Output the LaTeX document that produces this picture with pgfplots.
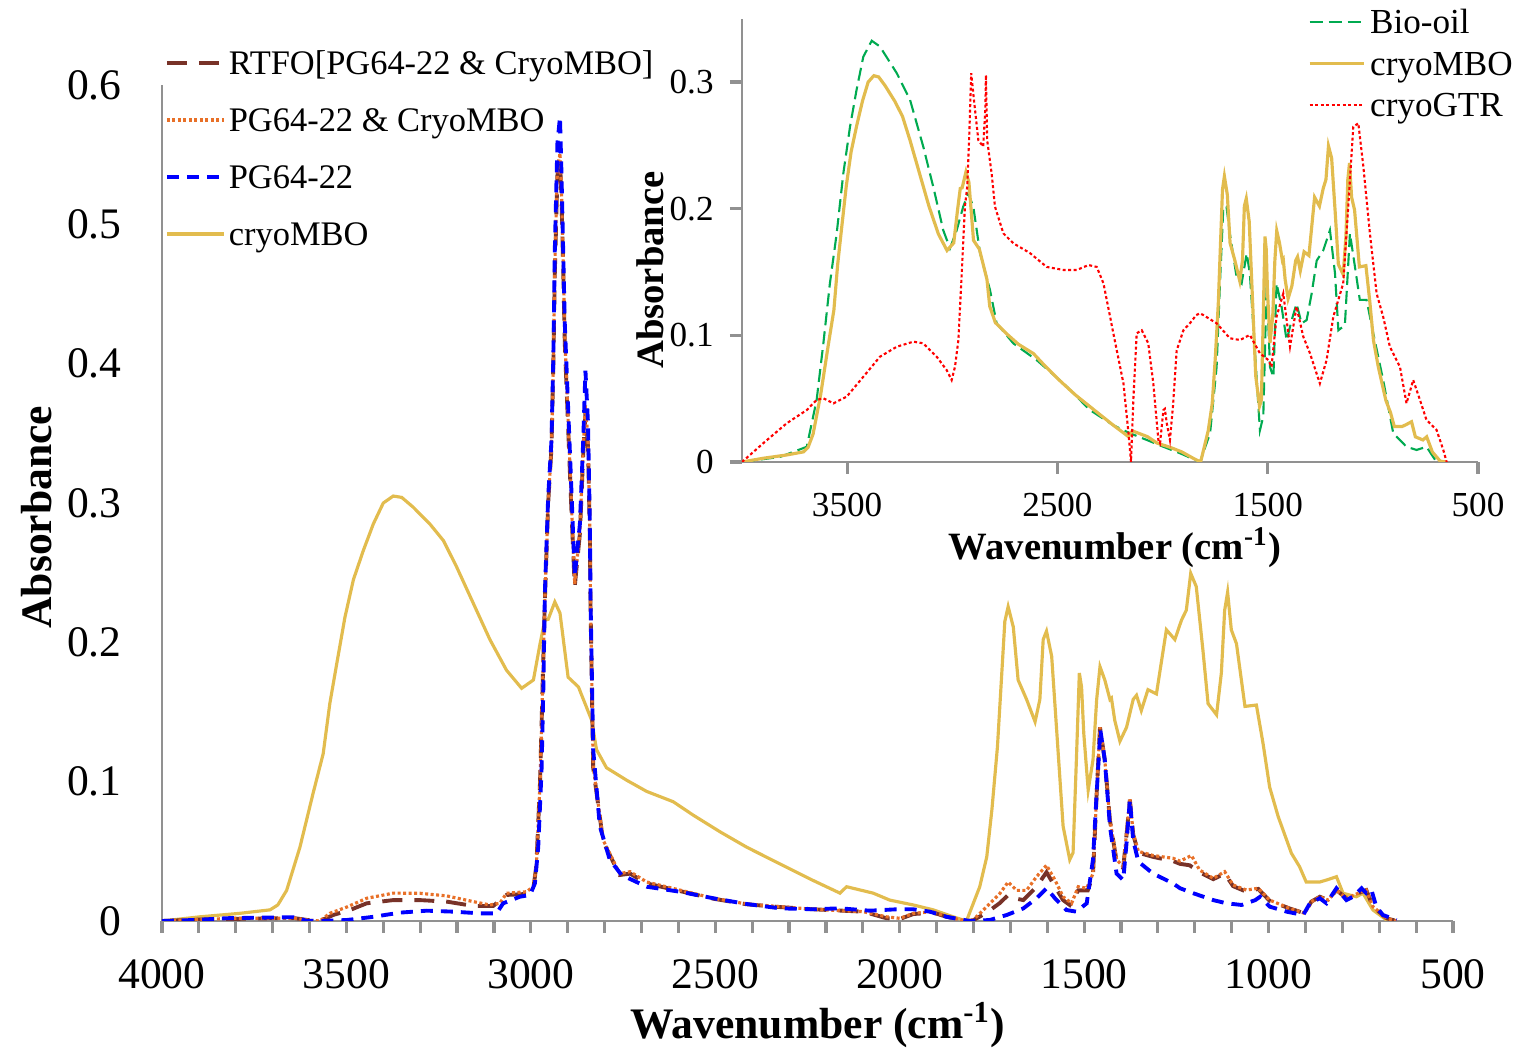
\documentclass[border=0pt]{standalone}
\usepackage{pgfplots}
\pgfplotsset{compat=1.18}
\usepackage{pgfplotstable}
\usepackage{fontspec}
\setmainfont{Liberation Serif}

\definecolor{axisgray}{RGB}{145,145,145}
\definecolor{rtfo}{RGB}{120,50,40}
\definecolor{blendorange}{RGB}{232,112,40}
\definecolor{pgblue}{RGB}{0,0,255}
\definecolor{mbogold}{RGB}{226,188,78}
\definecolor{biogreen}{RGB}{0,170,80}
\definecolor{gtrred}{RGB}{255,0,0}

\tikzset{
  rtfo line/.style={rtfo, line width=1.1pt, dash pattern=on 2mm off 1.2mm},
  blend line/.style={blendorange, line width=0.9pt, dash pattern=on 0.3mm off 0.25mm},
  pg line/.style={pgblue, line width=1.1pt, dash pattern=on 1.2mm off 0.8mm},
  mbo line/.style={mbogold, line width=0.9pt},
  bio line/.style={biogreen, line width=0.6pt, dash pattern=on 1.3mm off 0.6mm},
  gtr line/.style={gtrred, line width=0.6pt, dash pattern=on 0.3mm off 0.25mm},
}

% cryoMBO spectrum (wavenumber, absorbance)
\pgfplotstableread{
wn a
4000 0.000
3897 0.003
3789 0.0055
3707 0.008
3686 0.0115
3662 0.022
3626 0.053
3590 0.092
3563 0.120
3545 0.156
3526 0.185
3504 0.218
3481 0.245
3454 0.266
3427 0.285
3400 0.300
3373 0.305
3350 0.304
3319 0.297
3274 0.285
3237 0.273
3201 0.254
3156 0.228
3111 0.202
3066 0.180
3025 0.167
2993 0.173
2975 0.199
2962 0.216
2953 0.2165
2935 0.229
2921 0.221
2899 0.175
2871 0.168
2835 0.144
2822 0.123
2795 0.110
2740 0.101
2686 0.093
2614 0.0856
2560 0.076
2487 0.064
2415 0.053
2325 0.041
2234 0.029
2162 0.020
2144 0.0246
2072 0.020
2027 0.015
1963 0.0115
1909 0.008
1855 0.003
1819 0.000
1783 0.0246
1764 0.046
1750 0.080
1735 0.125
1725 0.170
1715 0.215
1706 0.2256
1692 0.211
1679 0.173
1656 0.159
1633 0.143
1620 0.159
1611 0.202
1602 0.208
1588 0.190
1575 0.139
1557 0.068
1539 0.044
1530 0.049
1521 0.1155
1513 0.178
1507 0.168
1501 0.1347
1489 0.094
1476 0.1155
1466 0.159
1457 0.1825
1444 0.173
1430 0.159
1426 0.160
1417 0.144
1403 0.129
1385 0.139
1367 0.159
1358 0.162
1345 0.151
1327 0.166
1304 0.163
1277 0.209
1254 0.202
1236 0.216
1223 0.223
1211 0.2495
1196 0.240
1178 0.1945
1164 0.156
1141 0.148
1128 0.178
1119 0.223
1111 0.236
1101 0.209
1087 0.199
1064 0.154
1033 0.155
1015 0.1275
997 0.096
974 0.075
938 0.0486
916 0.039
898 0.028
861 0.028
843 0.0294
816 0.0318
798 0.0199
762 0.0174
744 0.0199
717 0.0079
680 0.0007
653 0.000
}\cryombo

% PG64-22 binder
\pgfplotstableread{
wn a
4000 0.000
3915 0.0007
3824 0.002
3734 0.0024
3644 0.0027
3608 0.0002
3572 0.000
3499 0.0007
3427 0.003
3355 0.006
3282 0.0074
3210 0.0067
3138 0.0055
3093 0.0055
3075 0.0127
3030 0.0174
3002 0.0187
2989 0.027
2980 0.053
2971 0.108
2966 0.168
2962 0.235
2953 0.3045
2944 0.345
2939 0.405
2935 0.4816
2928 0.558
2921 0.577
2917 0.537
2912 0.477
2908 0.429
2899 0.369
2890 0.309
2881 0.247
2867 0.285
2858 0.345
2852 0.395
2845 0.357
2840 0.285
2838 0.228
2831 0.123
2813 0.068
2786 0.044
2754 0.033
2686 0.0246
2596 0.021
2505 0.0163
2415 0.0122
2325 0.0091
2234 0.0084
2162 0.0091
2081 0.0074
2008 0.0084
1963 0.0084
1918 0.0067
1873 0.003
1810 0.000
1756 0.0007
1710 0.0043
1665 0.009
1629 0.0163
1602 0.0235
1579 0.0163
1548 0.0079
1521 0.0067
1493 0.0127
1476 0.044
1466 0.0917
1456 0.137
1444 0.1155
1430 0.068
1412 0.034
1394 0.0294
1385 0.056
1376 0.087
1367 0.058
1353 0.0426
1313 0.034
1259 0.027
1240 0.0235
1204 0.0199
1150 0.015
1114 0.0127
1073 0.0115
1036 0.015
1023 0.0174
997 0.0103
951 0.0067
906 0.0043
888 0.0127
861 0.0163
843 0.0127
816 0.0235
789 0.015
771 0.0174
748 0.0235
735 0.0199
721 0.0222
708 0.0103
690 0.0043
653 0.0007
}\pgbinder

% PG64-22 & CryoMBO blend
\pgfplotstableread{
wn a
4000 0.000
3900 0.001
3800 0.002
3700 0.002
3640 0.002
3600 0.0005
3572 0.000
3545 0.0055
3499 0.010
3445 0.0163
3373 0.020
3301 0.0199
3228 0.018
3156 0.0139
3111 0.0115
3084 0.0127
3066 0.0199
3012 0.021
2993 0.0246
2985 0.040
2975 0.100
2968 0.170
2962 0.230
2953 0.300
2944 0.340
2939 0.400
2935 0.470
2928 0.540
2921 0.551
2917 0.525
2912 0.470
2908 0.420
2899 0.360
2890 0.300
2881 0.242
2867 0.280
2858 0.340
2852 0.370
2845 0.345
2840 0.280
2838 0.225
2831 0.111
2804 0.058
2759 0.034
2731 0.0354
2686 0.028
2596 0.0222
2505 0.0163
2415 0.0122
2325 0.0103
2234 0.0084
2099 0.0067
2036 0.003
1999 0.0019
1963 0.0055
1909 0.0067
1873 0.003
1819 0.000
1801 0.0007
1764 0.0103
1728 0.0199
1706 0.028
1683 0.022
1656 0.022
1629 0.0318
1602 0.040
1579 0.0294
1557 0.0174
1534 0.0127
1516 0.0246
1493 0.0235
1476 0.034
1466 0.0917
1457 0.139
1444 0.1155
1430 0.0725
1412 0.044
1394 0.039
1385 0.063
1376 0.088
1367 0.063
1353 0.050
1313 0.047
1259 0.045
1240 0.043
1209 0.047
1187 0.0366
1150 0.0306
1119 0.0354
1096 0.0258
1060 0.0222
1028 0.0235
997 0.015
943 0.0091
902 0.0055
884 0.0139
861 0.0174
838 0.015
816 0.0222
789 0.0163
757 0.0199
735 0.0222
717 0.0103
680 0.0019
653 0.000
}\blend

% RTFO-aged blend
\pgfplotstableread{
wn a
4000 0.000
3900 0.001
3800 0.0015
3700 0.002
3640 0.002
3600 0.0005
3572 0.000
3536 0.0043
3490 0.0079
3445 0.0127
3373 0.015
3301 0.015
3228 0.0139
3156 0.0108
3102 0.0108
3066 0.0187
3012 0.0194
2993 0.0235
2985 0.040
2975 0.100
2968 0.170
2962 0.230
2953 0.300
2944 0.340
2939 0.400
2935 0.465
2928 0.535
2921 0.545
2917 0.520
2912 0.465
2908 0.415
2899 0.355
2890 0.295
2881 0.240
2867 0.278
2858 0.335
2852 0.365
2845 0.340
2840 0.278
2838 0.222
2831 0.110
2804 0.057
2759 0.033
2731 0.034
2686 0.027
2596 0.0215
2505 0.016
2415 0.012
2325 0.010
2234 0.0084
2099 0.0067
2036 0.002
1999 0.0015
1963 0.005
1909 0.006
1873 0.003
1819 0.000
1801 0.0005
1764 0.006
1728 0.013
1706 0.0187
1683 0.016
1665 0.015
1629 0.0246
1602 0.035
1579 0.0246
1557 0.015
1539 0.0115
1516 0.022
1490 0.022
1476 0.033
1466 0.0917
1457 0.139
1444 0.1155
1430 0.072
1412 0.043
1394 0.038
1385 0.062
1376 0.087
1367 0.062
1353 0.049
1313 0.046
1259 0.043
1240 0.041
1214 0.040
1187 0.035
1150 0.030
1119 0.034
1096 0.025
1060 0.021
1028 0.023
997 0.0145
943 0.009
902 0.0055
884 0.0139
861 0.0174
838 0.015
816 0.0222
789 0.0163
757 0.0199
735 0.0222
717 0.0103
680 0.0019
653 0.000
}\rtfoaged

% Bio-oil
\pgfplotstableread{
wn a
4000 0.000
3819 0.004
3692 0.012
3645 0.049
3613 0.0937
3582 0.141
3550 0.180
3518 0.228
3486 0.265
3455 0.294
3423 0.320
3383 0.3326
3344 0.328
3264 0.307
3201 0.286
3138 0.249
3090 0.217
3043 0.183
3011 0.1687
2979 0.183
2948 0.2016
2924 0.212
2900 0.2016
2868 0.165
2821 0.136
2789 0.1095
2710 0.0937
2599 0.0805
2471 0.062
2345 0.041
2234 0.029
2155 0.0227
2075 0.0174
1996 0.012
1917 0.0069
1822 0.000
1774 0.0227
1743 0.075
1727 0.141
1711 0.2016
1696 0.2016
1680 0.1805
1648 0.146
1624 0.141
1600 0.1647
1585 0.149
1561 0.088
1537 0.025
1521 0.036
1505 0.141
1489 0.075
1473 0.067
1458 0.141
1434 0.1226
1410 0.096
1386 0.112
1363 0.125
1339 0.1095
1315 0.112
1291 0.133
1267 0.159
1236 0.167
1204 0.183
1180 0.149
1164 0.104
1133 0.108
1109 0.1805
1085 0.154
1062 0.128
1030 0.128
998 0.1016
951 0.0647
903 0.0227
840 0.012
792 0.0095
745 0.012
697 0.000
665 0.000
}\biooil

% cryoGTR
\pgfplotstableread{
wn a
4000 0.000
3899 0.0148
3787 0.0306
3692 0.041
3645 0.049
3613 0.0503
3565 0.0463
3502 0.0516
3423 0.0673
3344 0.0831
3264 0.091
3185 0.095
3138 0.0937
3074 0.0831
3027 0.0726
3003 0.0647
2987 0.0752
2971 0.0963
2955 0.149
2940 0.2016
2929 0.217
2919 0.259
2910 0.307
2897 0.286
2876 0.254
2853 0.249
2843 0.278
2840 0.3055
2834 0.254
2813 0.228
2797 0.2016
2757 0.1805
2710 0.1727
2631 0.165
2551 0.154
2471 0.1516
2408 0.1516
2352 0.1555
2313 0.154
2281 0.141
2234 0.1016
2186 0.062
2162 0.0227
2150 0.000
2139 0.049
2123 0.1016
2099 0.104
2068 0.0937
2044 0.062
2020 0.0174
2012 0.0148
1996 0.041
1989 0.042
1980 0.0306
1965 0.0174
1950 0.045
1933 0.088
1901 0.104
1870 0.1095
1840 0.116
1822 0.1174
1806 0.116
1743 0.1095
1680 0.0977
1632 0.0963
1585 0.1003
1537 0.0858
1497 0.0805
1482 0.075
1458 0.1147
1426 0.133
1394 0.091
1363 0.1226
1331 0.099
1299 0.0858
1252 0.062
1220 0.0805
1188 0.1147
1141 0.141
1117 0.2016
1093 0.2647
1069 0.2674
1045 0.233
1014 0.1805
982 0.133
951 0.1147
919 0.091
871 0.075
840 0.0463
808 0.0647
776 0.049
745 0.0332
697 0.0253
665 0.0095
649 0.000
}\cryogtr

\begin{document}
\begin{tikzpicture}
% page frame: fixes the overall extent of the figure
\path (0,0) rectangle (152.1mm,105.2mm);

% main spectra
\begin{axis}[
  at={(16.2mm,13.1mm)}, anchor=south west,
  scale only axis, width=129.1mm, height=83.6mm,
  xmin=500, xmax=4000, x dir=reverse,
  ymin=0, ymax=0.6,
  axis x line*=bottom, axis y line*=left,
  axis line style={draw=axisgray, line width=0.8pt},
  xtick={500,1000,1500,2000,2500,3000,3500,4000},
  minor xtick={600,700,...,3900},
  ytick={0,0.1,0.2,0.3,0.4,0.5,0.6},
  tick align=outside,
  major tick length=1.2mm, minor tick length=1.2mm,
  xtick style={draw=axisgray, line width=0.9pt},
  ytick style={draw=none},
  tick label style={font=\fontsize{12.4}{14}\selectfont, /pgf/number format/assume math mode=true},
  xticklabel style={/pgf/number format/set thousands separator={}, yshift=-1.4mm},
  yticklabel style={/pgf/number format/fixed, xshift=-1.6mm},
  xlabel={Wavenumber (cm\textsuperscript{-1})},
  ylabel={Absorbance},
  label style={font=\fontsize{12.4}{14}\selectfont\bfseries},
  xlabel style={at={(axis description cs:0.508,-0.1244)}, anchor=center},
  ylabel style={at={(axis description cs:-0.0968,0.483)}, anchor=center},
  legend style={at={(axis description cs:0,1)}, anchor=north west, xshift=0.3mm, yshift=5.05mm,
    draw=none, fill=none, inner sep=0pt, outer sep=0pt, row sep=0pt,
    font=\fontsize{9.8}{12}\selectfont,
    nodes={inner xsep=0.3mm, inner ysep=0pt, text height=4.0mm, text depth=1.7mm}},
  legend cell align=left,
  legend image code/.code={\draw[#1] (0mm,0mm) -- (5.7mm,0mm);},
]
\addlegendimage{rtfo line}\addlegendentry{RTFO[PG64-22 \& CryoMBO]}
\addlegendimage{blend line}\addlegendentry{PG64-22 \& CryoMBO}
\addlegendimage{pg line}\addlegendentry{PG64-22}
\addlegendimage{mbo line}\addlegendentry{cryoMBO}
\addplot[mbo line, forget plot] table[x=wn,y=a] {\cryombo};
\addplot[rtfo line, forget plot] table[x=wn,y=a] {\rtfoaged};
\addplot[blend line, forget plot] table[x=wn,y=a] {\blend};
\addplot[pg line, forget plot] table[x=wn,y=a] {\pgbinder};
\end{axis}

% inset: raw materials
\begin{axis}[
  at={(74.2mm,59.0mm)}, anchor=south west,
  scale only axis, width=73.6mm, height=44.33mm,
  xmin=500, xmax=4000, x dir=reverse,
  ymin=0, ymax=0.35,
  axis x line*=bottom, axis y line*=left,
  axis line style={draw=axisgray, line width=0.8pt},
  xtick={500,1500,2500,3500},
  ytick={0,0.1,0.2,0.3},
  tick align=outside,
  major tick length=1.2mm,
  xtick style={draw=axisgray, line width=0.9pt},
  ytick style={draw=axisgray, line width=0.9pt},
  tick label style={font=\fontsize{10}{12}\selectfont, /pgf/number format/assume math mode=true},
  xticklabel style={/pgf/number format/set thousands separator={}, yshift=-0.7mm},
  yticklabel style={/pgf/number format/fixed, xshift=-0.4mm},
  xlabel={Wavenumber (cm\textsuperscript{-1})},
  ylabel={Absorbance},
  label style={font=\fontsize{11}{13}\selectfont\bfseries},
  xlabel style={at={(axis description cs:0.507,-0.194)}, anchor=center},
  ylabel style={at={(axis description cs:-0.125,0.433)}, anchor=center},
  legend style={at={(axis description cs:0,1)}, anchor=north west, xshift=56.6mm, yshift=1.74mm,
    draw=none, fill=none, inner sep=0pt, outer sep=0pt, row sep=0pt,
    font=\fontsize{10}{12}\selectfont,
    nodes={inner xsep=0.5mm, inner ysep=0pt, text height=3.225mm, text depth=0.925mm}},
  legend cell align=left,
  legend image code/.code={\draw[#1] (0mm,0mm) -- (5.4mm,0mm);},
]
\addplot[bio line] table[x=wn,y=a] {\biooil};
\addlegendentry{Bio-oil}
\addplot[mbo line] table[x=wn,y=a] {\cryombo};
\addlegendentry{cryoMBO}
\addplot[gtr line] table[x=wn,y=a] {\cryogtr};
\addlegendentry{cryoGTR}
\end{axis}
\end{tikzpicture}
\end{document}
